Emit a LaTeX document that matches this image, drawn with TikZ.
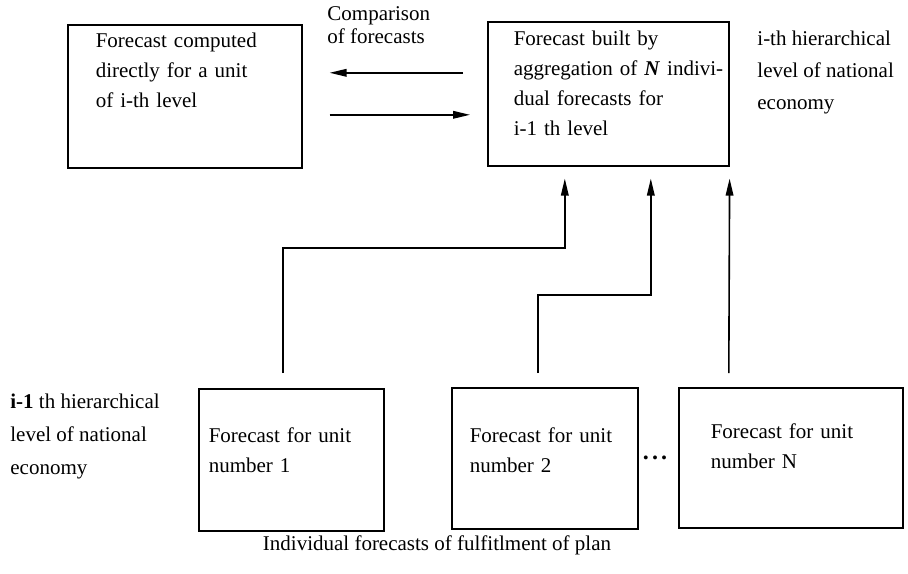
\documentclass[tikz,border=0pt]{standalone}
\usepackage{fontspec}
\setmainfont{Liberation Serif}
\usetikzlibrary{arrows.meta}

\tikzset{
  fcbox/.style={draw, line width=.8pt, anchor=north west, align=left,
    inner xsep=0pt, inner ysep=0pt, font=\fontsize{10.5}{15}\selectfont},
  lpad/.style={execute at begin node={\leftskip=#1}},
  fclabel/.style={anchor=north west, align=left, inner sep=0pt},
  fcarrow/.style={line width=.8pt, -{Triangle[length=8.5pt,width=3.8pt]}}
}

\begin{document}
\begin{tikzpicture}[x=.5pt,y=-.5pt]
\useasboundingbox (0,0) rectangle (908,573);
% level i
\node[fcbox, lpad=14pt, text width=117pt, text height=11.5pt, text depth=60pt] at (67,24) (fa)
  {Forecast computed\\ directly for a unit\\ of i-th level};
\node[fcbox, lpad=13pt, text width=120.5pt, text height=12pt, text depth=60pt] at (487,21) (fb)
  {Forecast built by\\ aggregation of \textbf{\textit{N}} indivi-\\ dual forecasts for\\ i-1 th level};
\node[fclabel, font=\fontsize{10.5}{11.5}\selectfont] at (327,6) (cmp) {Comparison\\ of forecasts};
\node[fclabel, font=\fontsize{10.5}{16}\selectfont] at (757,31) (lvltop)
  {i-th hierarchical\\ level of national\\ economy};
% level i-1
\node[fcbox, lpad=5pt, text width=92.5pt, text height=27pt, text depth=44pt] at (198,388) (u1)
  {Forecast for unit\\ number 1};
\node[fcbox, lpad=9pt, text width=93pt, text height=27.5pt, text depth=43pt] at (451,387) (u2)
  {Forecast for unit\\ number 2};
\node[fcbox, lpad=16pt, text width=112pt, text height=25.5pt, text depth=44.5pt] at (678,387) (un)
  {Forecast for unit\\ number N};
\node[inner sep=0pt, font=\fontsize{12}{12}\selectfont] at (655,458) (dots)
  {\textbf{.\hspace{1.6pt}.\hspace{1.6pt}.}};
\node[fclabel, font=\fontsize{10.5}{16.5}\selectfont] at (10,394) (lvlbot)
  {\textbf{i-1} th hierarchical\\ level of national\\ economy};
\node[anchor=base, font=\fontsize{10.5}{12}\selectfont] at (437,550) (plan)
  {Individual forecasts of fulfitlment of plan};
% comparison
\draw[fcarrow] ([shift={(-24,-21)}]fb.west) -- ([shift={(27,-23.5)}]fa.east);
\draw[fcarrow] ([shift={(27,18.5)}]fa.east) -- ([shift={(-17,21)}]fb.west);
% aggregation
\draw[fcarrow] ([shift={(-8.5,-15)}]u1.north) -- ++(0,-125) -| ([shift={(-43.5,12)}]fb.south);
\draw[fcarrow] ([shift={(-7,-14)}]u2.north) -- ++(0,-78) -| ([shift={(42.5,12)}]fb.south);
\draw[fcarrow] ([shift={(-62,-14)}]un.north) -- ([shift={(0,12)}]fb.south east);
\end{tikzpicture}
\end{document}
